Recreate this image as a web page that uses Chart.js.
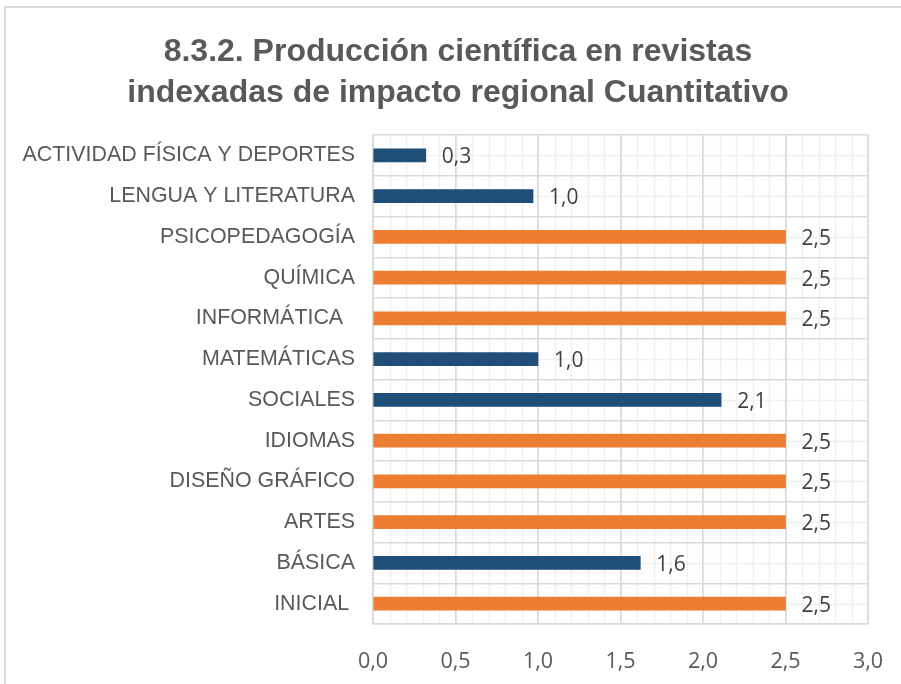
<!DOCTYPE html>
<html>
<head>
<meta charset="utf-8">
<script src="https://cdn.jsdelivr.net/npm/chart.js@4.4.1/dist/chart.umd.min.js"></script>
<style>
  html, body { margin: 0; padding: 0; background: #ffffff; }
  #wrap { position: relative; width: 901px; height: 684px; }
</style>
</head>
<body>
<div id="wrap"><canvas id="c" width="901" height="684"></canvas></div>
<script>
const titleLines = ["8.3.2. Producción científica en revistas", "indexadas de impacto regional Cuantitativo"];
const categories = [
  "ACTIVIDAD FÍSICA Y DEPORTES",
  "LENGUA Y LITERATURA",
  "PSICOPEDAGOGÍA",
  "QUÍMICA",
  "INFORMÁTICA  ",
  "MATEMÁTICAS",
  "SOCIALES",
  "IDIOMAS",
  "DISEÑO GRÁFICO",
  "ARTES",
  "BÁSICA",
  "INICIAL "
];
const values = [0.32, 0.97, 2.5, 2.5, 2.5, 1.0, 2.11, 2.5, 2.5, 2.5, 1.62, 2.5];
const xTicks = [0, 0.5, 1.0, 1.5, 2.0, 2.5, 3.0];

const BLUE = "#1F4E79";
const ORANGE = "#ED7D31";
const fmt = v => Number(v).toFixed(1).replace(".", ",");

const frame = {
  id: "frame",
  beforeDraw(chart) {
    const c = chart.ctx;
    const a = chart.chartArea;
    c.save();
    // outer chart border (top & left visible)
    c.strokeStyle = "#D9D9D9";
    c.lineWidth = 2;
    c.beginPath();
    c.moveTo(5, 700);
    c.lineTo(5, 7);
    c.lineTo(910, 7);
    c.stroke();
    // minor gridlines
    c.strokeStyle = "#F0F0F0";
    c.lineWidth = 1.5;
    const xs = chart.scales.x;
    for (let i = 0; i <= 30; i++) {
      const px = Math.round(xs.getPixelForValue(i / 10)) + 0.5;
      c.beginPath(); c.moveTo(px, a.top); c.lineTo(px, a.bottom); c.stroke();
    }
    const ys = chart.scales.y;
    for (let i = 0; i < categories.length; i++) {
      const py = Math.round(ys.getPixelForValue(i)) + 0.5;
      c.beginPath(); c.moveTo(a.left, py); c.lineTo(a.right, py); c.stroke();
    }
    // title
    c.fillStyle = "#595959";
    c.font = "bold 32px 'Liberation Sans', Arial, sans-serif";
    c.textAlign = "center";
    c.textBaseline = "alphabetic";
    c.fillText(titleLines[0], 458, 61);
    c.fillText(titleLines[1], 458, 102);
    c.restore();
  }
};

const dataLabels = {
  id: "dataLabels",
  afterDatasetsDraw(chart) {
    const c = chart.ctx;
    const meta = chart.getDatasetMeta(0);
    c.save();
    c.font = "21px 'Open Sans'";
    c.fillStyle = "#404040";
    c.textAlign = "left";
    c.textBaseline = "middle";
    meta.data.forEach((bar, i) => {
      c.fillText(fmt(values[i]), bar.x + 16, bar.y + 2);
    });
    c.restore();
  }
};

new Chart(document.getElementById("c"), {
  type: "bar",
  data: {
    labels: categories,
    datasets: [{
      data: values,
      backgroundColor: ctx => (ctx.raw >= 2.5 ? ORANGE : BLUE),
      barThickness: 13,
      borderWidth: 0
    }]
  },
  plugins: [frame, dataLabels],
  options: {
    indexAxis: "y",
    responsive: false,
    animation: false,
    devicePixelRatio: 1,
    layout: { padding: { left: 0, right: 33, top: 135, bottom: 0 } },
    plugins: {
      legend: { display: false },
      tooltip: { enabled: false },
      title: { display: false }
    },
    scales: {
      x: {
        type: "linear",
        min: 0,
        max: 3,
        afterBuildTicks: s => { s.ticks = xTicks.map(v => ({ value: v })); },
        afterFit: s => { s.height = 60; s.paddingLeft = 0; s.paddingRight = 0; },
        ticks: {
          color: "#595959",
          font: { family: "'Open Sans'", size: 21.5 },
          padding: 25,
          maxRotation: 0,
          callback: v => fmt(v)
        },
        grid: { color: "#D9D9D9", lineWidth: 1.5, drawTicks: false },
        border: { display: true, color: "#D9D9D9", width: 1.5 }
      },
      y: {
        type: "category",
        offset: true,
        afterFit: s => { s.width = 373; s.paddingTop = 0; s.paddingBottom = 0; },
        ticks: {
          color: "#595959",
          font: { family: "'Liberation Sans', Arial, sans-serif", size: 21.4 },
          padding: 18,
          autoSkip: false
        },
        grid: { color: "#D9D9D9", lineWidth: 1.5, offset: true, drawTicks: false },
        border: { display: true, color: "#D9D9D9", width: 1.5 }
      }
    }
  }
});
</script>
</body>
</html>
